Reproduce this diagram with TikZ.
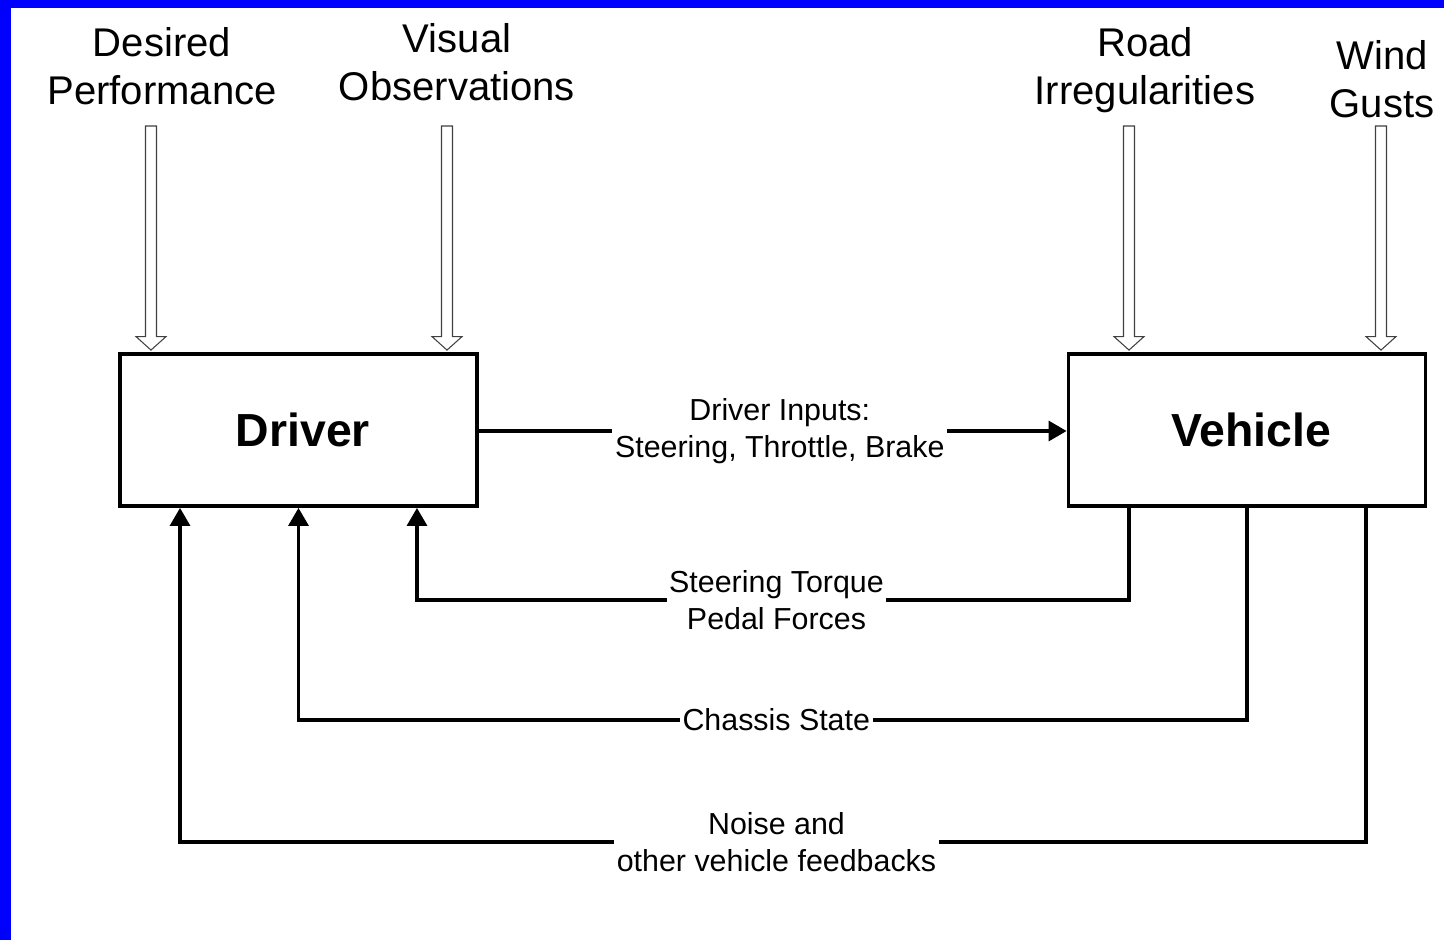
\documentclass[tikz,border=0pt]{standalone}
\usepackage{fontspec}
\setmainfont{Liberation Sans}
\usetikzlibrary{arrows.meta,calc,positioning}
\definecolor{frameblue}{RGB}{0,0,255}

\begin{document}
\begin{tikzpicture}[x=0.02cm, y=-0.02cm,
    block/.style={rectangle, draw, line width=2.2pt, minimum width=7.14cm, minimum height=3.04cm, font=\bfseries\fontsize{26.4}{30}\selectfont},
    cue/.style={align=center, font=\fontsize{22.8}{27.3}\selectfont},
    lbl/.style={fill=white, align=center, inner sep=1.5pt, font=\fontsize{17.3}{21}\selectfont},
    link/.style={line width=1.8pt, -{Triangle[length=0.36cm, width=0.4cm]}},
    hollow/.style={draw=black!75, line width=0.6pt, fill=white, to path={
        let \p1=(\tikztostart), \p2=(\tikztotarget) in
        (\x1-0.11cm,\y1) -- (\x1-0.11cm,\y2+0.31cm) -- (\x1-0.3cm,\y2+0.31cm) -- (\x1,\y2+0.04cm)
        -- (\x1+0.3cm,\y2+0.31cm) -- (\x1+0.11cm,\y2+0.31cm) -- (\x1+0.11cm,\y1) -- cycle}}
]
    \useasboundingbox (0,0) rectangle (1444,940);
    \fill[frameblue] (0,0) rectangle (11,940);
    \fill[frameblue] (0,0) rectangle (1444,8);

    % the two blocks
    \node[block] (drv) at (298.5,430) {\hspace{5pt}Driver};
    \node[block] (veh) at (1247,430) {\hspace{5pt}Vehicle};

    % outside inputs
    \node[cue] (desired) at (162,66) {Desired\\Performance};
    \node[cue] (visual) at (457,62) {Visual\\Observations};
    \node[cue] (road) at (1145,70) {Road\\Irregularities};
    \node[cue] (wind) at (1382,79) {Wind\\Gusts};

    \coordinate (dpin) at (151,126);
    \coordinate (voin) at (447,126);
    \coordinate (riin) at (1129,126);
    \coordinate (wgin) at (1381,126);

    \draw[hollow] (dpin) to (dpin |- drv.north);
    \draw[hollow] (voin) to (voin |- drv.north);
    \draw[hollow] (riin) to (riin |- veh.north);
    \draw[hollow] (wgin) to (wgin |- veh.north);

    % driver to vehicle
    \draw[link] (drv.east |- 0,431) -- node[lbl, pos=0.512] {Driver Inputs:\\Steering, Throttle, Brake} (veh.west |- 0,431);

    % feedback paths
    \draw[link] ([xshift=-2.36cm]veh.south) -- ++(0,92) -| node[lbl, pos=0.25, xshift=2pt] {Steering Torque\\Pedal Forces} ([xshift=2.37cm]drv.south);
    \draw[link] (veh.south) -- ++(0,212) -| node[lbl, pos=0.25, xshift=2pt] {Chassis State} (drv.south);
    \draw[link] ([xshift=2.38cm]veh.south) -- ++(0,334) -| node[lbl, pos=0.25, xshift=2pt] {Noise and\\other vehicle feedbacks} ([xshift=-2.37cm]drv.south);
\end{tikzpicture}
\end{document}
